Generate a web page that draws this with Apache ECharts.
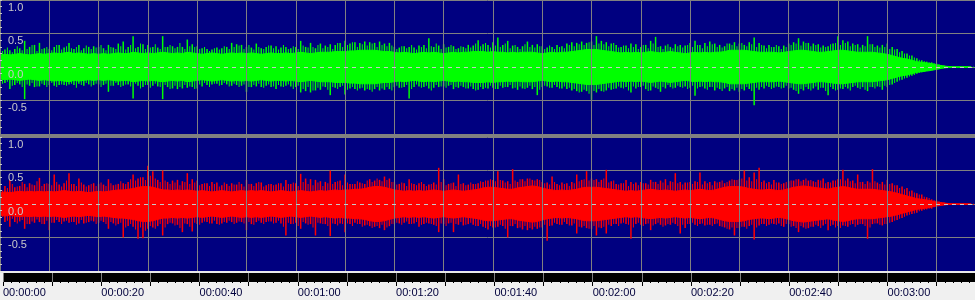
<!DOCTYPE html>
<html>
<head>
<meta charset="utf-8">
<script src="https://cdn.jsdelivr.net/npm/echarts@6/dist/echarts.min.js"></script>
<style>
html,body{margin:0;padding:0;background:#f0f0f0;}
#c{width:975px;height:300px;}
</style>
</head>
<body>
<div id="c"></div>
<script>
// time in seconds (samples at whole seconds 0..197 and at half seconds 0.5..197.5)
const seconds = Array.from({length: 198}, (_, i) => i);
const halfSeconds = Array.from({length: 198}, (_, i) => i + 0.5);
const timeTickLabels = ['00:00:00','00:00:20','00:00:40','00:01:00','00:01:20','00:01:40','00:02:00','00:02:20','00:02:40','00:03:00'];
const ampTickLabels = ['1.0','0.5','0.0','-0.5'];

// Channel 1 (green): dense core amplitude, peak max / min at whole seconds, peak max / min at half seconds
const greenCore = [
0.18,0.19,0.18,0.19,0.2,0.19,0.18,0.19,0.2,0.19,
0.2,0.21,0.2,0.21,0.22,0.2,0.21,0.2,0.19,0.2,
0.19,0.2,0.19,0.2,0.21,0.2,0.2,0.22,0.21,0.2,
0.21,0.2,0.21,0.22,0.21,0.2,0.21,0.2,0.22,0.21,
0.2,0.19,0.2,0.21,0.2,0.19,0.2,0.21,0.2,0.21,
0.2,0.21,0.2,0.19,0.2,0.21,0.2,0.2,0.21,0.2,
0.21,0.22,0.21,0.2,0.21,0.22,0.22,0.22,0.23,0.23,
0.23,0.24,0.24,0.25,0.25,0.25,0.25,0.24,0.23,0.23,
0.22,0.21,0.22,0.21,0.2,0.21,0.22,0.21,0.22,0.21,
0.2,0.21,0.22,0.21,0.22,0.22,0.23,0.23,0.23,0.22,
0.23,0.22,0.22,0.21,0.22,0.21,0.22,0.22,0.22,0.21,
0.2,0.21,0.22,0.21,0.22,0.22,0.23,0.24,0.25,0.26,
0.26,0.26,0.25,0.24,0.23,0.22,0.21,0.22,0.21,0.22,
0.21,0.22,0.23,0.22,0.21,0.22,0.23,0.22,0.21,0.2,
0.21,0.22,0.21,0.22,0.21,0.22,0.22,0.23,0.25,0.25,
0.25,0.25,0.24,0.23,0.22,0.22,0.22,0.22,0.21,0.22,
0.23,0.24,0.25,0.25,0.24,0.23,0.22,0.22,0.23,0.24,
0.25,0.25,0.24,0.23,0.22,0.22,0.22,0.22,0.21,0.2,
0.19,0.17,0.15,0.13,0.12,0.1,0.08,0.07,0.06,0.05,
0.035,0.02,0.01,0.005,0.004,0.004,0.004,0.004];
const greenPeakMax = [
0.33,0.26,0.25,0.27,0.28,0.39,0.3,0.33,0.36,0.28,
0.27,0.3,0.33,0.29,0.36,0.27,0.33,0.28,0.3,0.31,
0.3,0.28,0.33,0.29,0.35,0.38,0.3,0.46,0.3,0.34,
0.33,0.3,0.29,0.46,0.3,0.31,0.3,0.3,0.41,0.34,
0.31,0.28,0.27,0.26,0.29,0.28,0.3,0.36,0.34,0.33,
0.3,0.29,0.35,0.28,0.3,0.32,0.31,0.29,0.3,0.28,
0.3,0.39,0.3,0.36,0.28,0.35,0.32,0.34,0.33,0.36,
0.39,0.35,0.37,0.36,0.38,0.37,0.36,0.38,0.35,0.36,
0.3,0.29,0.31,0.3,0.29,0.32,0.33,0.43,0.3,0.32,
0.34,0.3,0.31,0.28,0.3,0.33,0.32,0.4,0.34,0.33,
0.37,0.44,0.33,0.39,0.32,0.3,0.31,0.38,0.33,0.34,
0.31,0.29,0.3,0.33,0.31,0.35,0.37,0.36,0.38,0.36,
0.38,0.46,0.39,0.37,0.35,0.33,0.3,0.32,0.35,0.34,
0.3,0.33,0.39,0.45,0.31,0.32,0.3,0.34,0.33,0.32,
0.36,0.39,0.33,0.36,0.38,0.35,0.33,0.31,0.35,0.37,
0.35,0.33,0.37,0.44,0.36,0.32,0.33,0.3,0.31,0.32,
0.35,0.37,0.43,0.38,0.36,0.35,0.34,0.32,0.31,0.35,
0.46,0.4,0.38,0.35,0.34,0.33,0.46,0.34,0.32,0.33,
0.35,0.3,0.27,0.24,0.2,0.17,0.13,0.1,0.08,0.07,
0.05,0.03,0.015,0.007,0.005,0.005,0.005,0.005];
const greenPeakMin = [
-0.26,-0.24,-0.33,-0.27,-0.26,-0.48,-0.28,-0.3,-0.29,-0.27,
-0.27,-0.28,-0.27,-0.27,-0.26,-0.27,-0.25,-0.28,-0.26,-0.27,
-0.26,-0.27,-0.37,-0.28,-0.27,-0.28,-0.26,-0.47,-0.28,-0.3,
-0.27,-0.28,-0.29,-0.48,-0.3,-0.32,-0.33,-0.32,-0.31,-0.3,
-0.32,-0.29,-0.27,-0.26,-0.25,-0.27,-0.26,-0.28,-0.27,-0.28,
-0.37,-0.3,-0.29,-0.3,-0.28,-0.3,-0.33,-0.29,-0.28,-0.29,
-0.3,-0.38,-0.36,-0.38,-0.35,-0.34,-0.3,-0.42,-0.31,-0.3,
-0.41,-0.32,-0.33,-0.32,-0.35,-0.34,-0.33,-0.35,-0.34,-0.33,
-0.3,-0.31,-0.3,-0.47,-0.3,-0.29,-0.3,-0.32,-0.31,-0.3,
-0.29,-0.28,-0.33,-0.31,-0.3,-0.32,-0.33,-0.34,-0.33,-0.32,
-0.31,-0.33,-0.31,-0.3,-0.32,-0.34,-0.32,-0.31,-0.33,-0.42,
-0.3,-0.29,-0.31,-0.3,-0.32,-0.33,-0.35,-0.36,-0.37,-0.36,
-0.49,-0.38,-0.36,-0.35,-0.34,-0.32,-0.31,-0.3,-0.38,-0.32,
-0.3,-0.33,-0.35,-0.31,-0.37,-0.32,-0.3,-0.31,-0.3,-0.29,
-0.31,-0.43,-0.3,-0.32,-0.3,-0.35,-0.33,-0.32,-0.36,-0.35,
-0.37,-0.35,-0.33,-0.57,-0.34,-0.32,-0.3,-0.31,-0.3,-0.31,
-0.32,-0.34,-0.4,-0.35,-0.33,-0.32,-0.34,-0.31,-0.42,-0.33,
-0.34,-0.33,-0.32,-0.3,-0.31,-0.3,-0.36,-0.3,-0.29,-0.34,
-0.3,-0.26,-0.22,-0.19,-0.16,-0.13,-0.1,-0.08,-0.06,-0.05,
-0.035,-0.02,-0.01,-0.006,-0.005,-0.005,-0.005,-0.005];
const greenHalfMax = [
0.24,0.29,0.22,0.31,0.25,0.27,0.33,0.24,0.27,0.3,
0.25,0.33,0.26,0.31,0.28,0.3,0.25,0.32,0.27,0.29,
0.33,0.25,0.3,0.27,0.31,0.26,0.33,0.28,0.35,0.27,
0.29,0.34,0.27,0.3,0.33,0.28,0.36,0.27,0.31,0.3,
0.27,0.3,0.24,0.28,0.26,0.31,0.27,0.3,0.32,0.27,
0.33,0.26,0.3,0.27,0.32,0.28,0.26,0.33,0.27,0.31,
0.27,0.32,0.29,0.3,0.33,0.28,0.3,0.27,0.36,0.3,
0.33,0.37,0.3,0.34,0.32,0.35,0.3,0.33,0.31,0.32,
0.27,0.31,0.28,0.33,0.26,0.3,0.28,0.31,0.35,0.27,
0.29,0.33,0.27,0.31,0.28,0.29,0.35,0.31,0.36,0.29,
0.32,0.3,0.35,0.28,0.33,0.27,0.34,0.3,0.29,0.31,
0.27,0.32,0.27,0.3,0.28,0.33,0.31,0.34,0.33,0.37,
0.33,0.35,0.34,0.31,0.36,0.29,0.32,0.28,0.3,0.27,
0.33,0.28,0.35,0.3,0.27,0.34,0.28,0.31,0.29,0.33,
0.3,0.33,0.28,0.31,0.34,0.3,0.29,0.35,0.33,0.31,
0.36,0.31,0.34,0.3,0.33,0.28,0.3,0.33,0.27,0.3,
0.33,0.35,0.32,0.36,0.31,0.33,0.29,0.3,0.34,0.36,
0.33,0.36,0.31,0.33,0.29,0.31,0.34,0.3,0.29,0.3,
0.27,0.26,0.22,0.2,0.17,0.14,0.11,0.09,0.07,0.06,
0.04,0.025,0.012,0.006,0.005,0.005,0.005,0.005];
const greenHalfMin = [
-0.25,-0.22,-0.28,-0.24,-0.3,-0.26,-0.24,-0.29,-0.25,-0.3,
-0.24,-0.3,-0.26,-0.28,-0.25,-0.31,-0.27,-0.24,-0.29,-0.25,
-0.3,-0.25,-0.28,-0.24,-0.3,-0.26,-0.29,-0.25,-0.32,-0.27,
-0.31,-0.25,-0.3,-0.27,-0.33,-0.28,-0.3,-0.27,-0.29,-0.33,
-0.26,-0.24,-0.3,-0.25,-0.28,-0.24,-0.29,-0.25,-0.3,-0.26,
-0.3,-0.27,-0.25,-0.31,-0.26,-0.29,-0.27,-0.3,-0.26,-0.33,
-0.28,-0.33,-0.3,-0.35,-0.31,-0.29,-0.34,-0.3,-0.33,-0.28,
-0.34,-0.3,-0.35,-0.31,-0.33,-0.37,-0.3,-0.32,-0.3,-0.35,
-0.28,-0.31,-0.27,-0.33,-0.26,-0.31,-0.28,-0.35,-0.27,-0.29,
-0.31,-0.27,-0.3,-0.28,-0.32,-0.29,-0.35,-0.3,-0.31,-0.28,
-0.33,-0.28,-0.3,-0.27,-0.31,-0.29,-0.33,-0.28,-0.3,-0.34,
-0.28,-0.31,-0.27,-0.32,-0.29,-0.31,-0.33,-0.38,-0.34,-0.4,
-0.36,-0.33,-0.37,-0.31,-0.33,-0.29,-0.32,-0.35,-0.29,-0.3,
-0.28,-0.36,-0.29,-0.33,-0.3,-0.27,-0.32,-0.28,-0.31,-0.33,
-0.28,-0.32,-0.29,-0.34,-0.3,-0.31,-0.36,-0.3,-0.33,-0.31,
-0.33,-0.3,-0.36,-0.31,-0.3,-0.28,-0.33,-0.29,-0.32,-0.28,
-0.31,-0.36,-0.33,-0.3,-0.35,-0.29,-0.31,-0.36,-0.3,-0.35,
-0.32,-0.3,-0.35,-0.28,-0.33,-0.34,-0.3,-0.32,-0.3,-0.28,
-0.27,-0.24,-0.2,-0.17,-0.14,-0.12,-0.09,-0.07,-0.055,-0.045,
-0.03,-0.015,-0.008,-0.005,-0.005,-0.005,-0.005,-0.005];

// Channel 2 (red)
const redCore = [
0.17,0.18,0.17,0.18,0.19,0.18,0.19,0.18,0.19,0.18,
0.19,0.18,0.19,0.2,0.19,0.18,0.19,0.18,0.17,0.18,
0.19,0.18,0.19,0.2,0.21,0.21,0.22,0.23,0.25,0.26,
0.26,0.25,0.23,0.21,0.21,0.2,0.21,0.2,0.21,0.2,
0.19,0.2,0.19,0.18,0.19,0.2,0.19,0.18,0.19,0.2,
0.19,0.2,0.19,0.2,0.19,0.18,0.19,0.2,0.19,0.18,
0.19,0.2,0.19,0.18,0.19,0.2,0.19,0.2,0.21,0.2,
0.21,0.21,0.22,0.22,0.23,0.25,0.26,0.26,0.25,0.23,
0.21,0.2,0.19,0.2,0.19,0.2,0.19,0.2,0.21,0.2,
0.19,0.2,0.21,0.2,0.19,0.2,0.21,0.22,0.24,0.25,
0.25,0.24,0.23,0.22,0.22,0.24,0.25,0.26,0.27,0.26,
0.24,0.22,0.21,0.2,0.21,0.2,0.21,0.22,0.24,0.25,
0.25,0.25,0.24,0.23,0.22,0.21,0.2,0.19,0.2,0.19,
0.2,0.21,0.22,0.21,0.2,0.21,0.2,0.19,0.2,0.21,
0.2,0.21,0.22,0.21,0.2,0.21,0.23,0.25,0.26,0.26,
0.26,0.25,0.23,0.22,0.21,0.21,0.22,0.21,0.2,0.21,
0.23,0.25,0.26,0.27,0.26,0.25,0.24,0.23,0.22,0.24,
0.25,0.26,0.25,0.23,0.22,0.22,0.22,0.22,0.21,0.2,
0.19,0.18,0.16,0.14,0.12,0.1,0.08,0.07,0.06,0.045,
0.03,0.02,0.01,0.005,0.004,0.004,0.004,0.004];
const redPeakMax = [
0.14,0.27,0.36,0.25,0.27,0.3,0.31,0.28,0.39,0.3,
0.3,0.44,0.29,0.31,0.46,0.3,0.38,0.29,0.28,0.31,
0.3,0.29,0.37,0.28,0.3,0.31,0.33,0.44,0.38,0.4,
0.57,0.49,0.36,0.5,0.33,0.35,0.36,0.34,0.46,0.37,
0.35,0.3,0.31,0.33,0.32,0.28,0.3,0.31,0.29,0.3,
0.36,0.3,0.31,0.32,0.28,0.3,0.29,0.31,0.36,0.3,
0.31,0.45,0.38,0.37,0.36,0.34,0.33,0.5,0.33,0.35,
0.44,0.3,0.3,0.32,0.3,0.37,0.35,0.36,0.41,0.38,
0.33,0.3,0.31,0.37,0.3,0.31,0.3,0.29,0.32,0.54,
0.37,0.3,0.32,0.44,0.31,0.29,0.3,0.31,0.33,0.35,
0.36,0.49,0.35,0.34,0.52,0.33,0.37,0.38,0.36,0.37,
0.33,0.32,0.41,0.3,0.32,0.31,0.33,0.44,0.36,0.49,
0.38,0.37,0.36,0.51,0.34,0.3,0.31,0.36,0.33,0.32,
0.33,0.31,0.36,0.33,0.35,0.37,0.34,0.46,0.33,0.32,
0.33,0.34,0.47,0.34,0.33,0.34,0.33,0.31,0.35,0.36,
0.37,0.5,0.4,0.47,0.54,0.35,0.33,0.36,0.32,0.31,
0.34,0.35,0.37,0.36,0.35,0.34,0.36,0.38,0.33,0.35,
0.37,0.51,0.38,0.35,0.44,0.33,0.34,0.52,0.32,0.33,
0.36,0.31,0.28,0.26,0.24,0.2,0.16,0.14,0.1,0.07,
0.05,0.03,0.015,0.007,0.005,0.005,0.005,0.005];
const redPeakMin = [
-0.2,-0.27,-0.34,-0.27,-0.26,-0.37,-0.3,-0.28,-0.27,-0.3,
-0.39,-0.28,-0.27,-0.26,-0.28,-0.27,-0.29,-0.29,-0.27,-0.26,
-0.28,-0.27,-0.37,-0.29,-0.3,-0.5,-0.33,-0.34,-0.52,-0.51,
-0.37,-0.35,-0.33,-0.47,-0.3,-0.29,-0.31,-0.42,-0.3,-0.41,
-0.3,-0.28,-0.27,-0.29,-0.3,-0.29,-0.28,-0.27,-0.28,-0.27,
-0.39,-0.3,-0.27,-0.28,-0.27,-0.26,-0.28,-0.29,-0.47,-0.3,
-0.28,-0.37,-0.29,-0.3,-0.47,-0.29,-0.3,-0.48,-0.3,-0.29,
-0.42,-0.3,-0.28,-0.3,-0.32,-0.33,-0.34,-0.36,-0.39,-0.33,
-0.3,-0.29,-0.28,-0.3,-0.29,-0.34,-0.3,-0.29,-0.31,-0.42,
-0.3,-0.29,-0.42,-0.31,-0.32,-0.3,-0.31,-0.33,-0.34,-0.38,
-0.35,-0.34,-0.33,-0.5,-0.33,-0.36,-0.38,-0.39,-0.38,-0.37,
-0.35,-0.55,-0.32,-0.3,-0.31,-0.3,-0.32,-0.44,-0.35,-0.36,
-0.37,-0.47,-0.36,-0.44,-0.33,-0.3,-0.29,-0.3,-0.52,-0.3,
-0.31,-0.3,-0.39,-0.3,-0.31,-0.32,-0.31,-0.3,-0.44,-0.36,
-0.3,-0.31,-0.3,-0.32,-0.31,-0.3,-0.33,-0.35,-0.38,-0.47,
-0.36,-0.34,-0.33,-0.53,-0.32,-0.3,-0.31,-0.3,-0.29,-0.34,
-0.3,-0.33,-0.42,-0.35,-0.36,-0.34,-0.33,-0.32,-0.39,-0.31,
-0.33,-0.32,-0.34,-0.3,-0.31,-0.3,-0.52,-0.3,-0.29,-0.32,
-0.3,-0.27,-0.24,-0.21,-0.17,-0.15,-0.13,-0.1,-0.08,-0.07,
-0.03,-0.02,-0.01,-0.006,-0.005,-0.005,-0.005,-0.005];
const redHalfMax = [
0.2,0.24,0.3,0.26,0.33,0.25,0.29,0.34,0.27,0.31,
0.28,0.33,0.26,0.35,0.3,0.27,0.32,0.26,0.3,0.27,
0.32,0.27,0.31,0.29,0.34,0.3,0.37,0.35,0.4,0.36,
0.42,0.38,0.33,0.35,0.3,0.32,0.28,0.33,0.3,0.32,
0.28,0.31,0.27,0.3,0.26,0.32,0.27,0.29,0.33,0.26,
0.3,0.27,0.33,0.26,0.3,0.28,0.31,0.26,0.3,0.32,
0.27,0.33,0.3,0.28,0.32,0.27,0.31,0.3,0.34,0.28,
0.32,0.3,0.34,0.31,0.35,0.33,0.38,0.34,0.36,0.33,
0.29,0.32,0.27,0.31,0.28,0.33,0.27,0.3,0.29,0.33,
0.28,0.31,0.27,0.3,0.28,0.32,0.3,0.34,0.35,0.37,
0.34,0.36,0.32,0.3,0.35,0.37,0.34,0.38,0.35,0.36,
0.31,0.29,0.33,0.28,0.3,0.27,0.31,0.34,0.37,0.35,
0.36,0.33,0.38,0.32,0.35,0.29,0.31,0.27,0.3,0.28,
0.31,0.29,0.33,0.3,0.32,0.28,0.33,0.31,0.29,0.32,
0.3,0.33,0.29,0.31,0.28,0.32,0.35,0.33,0.37,0.36,
0.38,0.35,0.34,0.37,0.33,0.31,0.29,0.32,0.3,0.33,
0.35,0.37,0.34,0.38,0.36,0.33,0.35,0.31,0.32,0.35,
0.37,0.35,0.34,0.31,0.33,0.3,0.32,0.34,0.3,0.29,
0.3,0.28,0.24,0.22,0.19,0.17,0.14,0.11,0.09,0.06,
0.04,0.025,0.012,0.006,0.005,0.005,0.005,0.005];
const redHalfMin = [
-0.19,-0.25,-0.22,-0.29,-0.24,-0.3,-0.26,-0.23,-0.3,-0.25,
-0.28,-0.24,-0.3,-0.25,-0.27,-0.31,-0.24,-0.28,-0.25,-0.3,
-0.25,-0.3,-0.27,-0.32,-0.28,-0.35,-0.3,-0.38,-0.35,-0.4,
-0.33,-0.37,-0.3,-0.35,-0.28,-0.32,-0.36,-0.29,-0.34,-0.28,
-0.31,-0.26,-0.29,-0.25,-0.31,-0.27,-0.25,-0.3,-0.26,-0.29,
-0.27,-0.31,-0.25,-0.3,-0.26,-0.29,-0.25,-0.34,-0.28,-0.3,
-0.33,-0.27,-0.31,-0.35,-0.28,-0.3,-0.33,-0.29,-0.32,-0.3,
-0.29,-0.33,-0.3,-0.34,-0.31,-0.36,-0.33,-0.31,-0.35,-0.3,
-0.28,-0.31,-0.26,-0.3,-0.27,-0.31,-0.28,-0.3,-0.33,-0.29,
-0.33,-0.28,-0.3,-0.27,-0.31,-0.28,-0.33,-0.3,-0.36,-0.33,
-0.35,-0.31,-0.37,-0.33,-0.3,-0.35,-0.33,-0.36,-0.34,-0.35,
-0.31,-0.33,-0.28,-0.31,-0.27,-0.32,-0.29,-0.34,-0.33,-0.37,
-0.33,-0.35,-0.34,-0.31,-0.3,-0.33,-0.28,-0.31,-0.35,-0.28,
-0.33,-0.29,-0.32,-0.28,-0.34,-0.3,-0.28,-0.33,-0.31,-0.3,
-0.28,-0.33,-0.29,-0.31,-0.33,-0.29,-0.34,-0.37,-0.35,-0.36,
-0.34,-0.37,-0.31,-0.35,-0.3,-0.33,-0.29,-0.31,-0.33,-0.3,
-0.34,-0.36,-0.33,-0.37,-0.34,-0.31,-0.36,-0.3,-0.33,-0.35,
-0.36,-0.33,-0.31,-0.34,-0.3,-0.33,-0.35,-0.29,-0.31,-0.3,
-0.28,-0.25,-0.22,-0.19,-0.16,-0.14,-0.11,-0.09,-0.07,-0.05,
-0.025,-0.015,-0.008,-0.005,-0.005,-0.005,-0.005,-0.005];

const T_MAX = 197.8;
const NAVY = '#000080', GRID = '#808080', LABEL = '#c8c8c8';

const chart = echarts.init(document.getElementById('c'), null, {renderer: 'canvas'});

function grid(top, height, bg) {
  return {left: 0, right: 0, top: top, height: height, show: true, backgroundColor: bg, borderWidth: 0, containLabel: false};
}
function panelX(gi) {
  return {type: 'value', gridIndex: gi, min: 0, max: T_MAX, interval: 10, z: 5,
    axisLine: {show: false}, axisTick: {show: false}, axisLabel: {show: false},
    splitLine: {show: true, lineStyle: {color: GRID, width: 1}}};
}
function panelYGrid(gi) {
  return {type: 'value', gridIndex: gi, min: -1, max: 1, interval: 0.5, position: 'left',
    axisLine: {show: false}, axisTick: {show: false}, axisLabel: {show: false},
    splitLine: {show: true, lineStyle: {color: GRID, width: 1}}};
}
function panelYLabels(gi) {
  return {type: 'value', gridIndex: gi, min: -1, max: 1, interval: 0.5, z: 6, position: 'left', offset: 0,
    axisLine: {show: false, onZero: false},
    axisTick: {show: true, inside: true, length: 2, lineStyle: {color: LABEL}},
    minorTick: {show: true, splitNumber: 5, length: 2, lineStyle: {color: LABEL}},
    splitLine: {show: false},
    axisLabel: {show: true, inside: true, margin: 8, verticalAlign: 'top', padding: [2,0,0,0],
      color: LABEL, fontFamily: 'Liberation Sans, Arial, sans-serif', fontSize: 11,
      showMinLabel: false,
      formatter: function (v) { const i = [1, 0.5, 0, -0.5].indexOf(Math.round(v*10)/10); return i >= 0 ? ampTickLabels[i] : ''; }}};
}

function coreSeries(gi, yi, vals, sign, color) {
  return {type: 'line', xAxisIndex: gi, yAxisIndex: yi, symbol: 'none', silent: true, z: 2,
    data: seconds.map((t, i) => [t, sign * vals[i]]),
    lineStyle: {color: color, width: 1}, areaStyle: {color: color, opacity: 1, origin: 0}};
}
function spikeSeries(gi, yi, times, lo, hi, color, w, withZeroLine) {
  const s = {type: 'custom', xAxisIndex: gi, yAxisIndex: yi, silent: true, z: 3,
    data: times.map((t, i) => [t, lo[i], hi[i]]),
    renderItem: function (params, api) {
      const a = api.coord([api.value(0), api.value(2)]);
      const b = api.coord([api.value(0), api.value(1)]);
      return {type: 'rect', shape: {x: a[0] - w / 2, y: a[1], width: w, height: Math.max(1, b[1] - a[1])},
        style: {fill: color}};
    }};
  if (withZeroLine) {
    s.markLine = {silent: true, symbol: 'none', label: {show: false},
      lineStyle: {color: '#c8c8c8', type: [4, 4], width: 1},
      data: [{yAxis: 0}]};
  }
  return s;
}

const option = {
  backgroundColor: '#f0f0f0',
  animation: false,
  grid: [grid(0, 134, NAVY), grid(137, 134, NAVY), grid(273, 9, '#000000')],
  xAxis: [panelX(0), panelX(1),
    {type: 'value', gridIndex: 2, min: 0, max: T_MAX, interval: 10, position: 'bottom', z: 5,
     axisLine: {show: false},
     axisTick: {show: true, length: 4, lineStyle: {color: '#000000'}},
     minorTick: {show: true, splitNumber: 6, length: 1, lineStyle: {color: '#000000'}},
     splitLine: {show: true, lineStyle: {color: GRID, width: 1}},
     axisLabel: {show: true, margin: 5, align: 'left', color: '#00003c',
       fontFamily: 'Liberation Sans, Arial, sans-serif', fontSize: 11, showMaxLabel: false,
       formatter: function (v) { const k = Math.round(v); return (k % 20 === 0 && k/20 < timeTickLabels.length) ? timeTickLabels[k/20] : ''; }}}],
  yAxis: [panelYGrid(0), panelYLabels(0), panelYGrid(1), panelYLabels(1),
    {type: 'value', gridIndex: 2, min: 0, max: 1, show: false, splitLine: {show: false}}],
  graphic: [
    {type: 'rect', shape: {x: 0, y: 134, width: 975, height: 3}, style: {fill: '#808080'}, z: 10},
    {type: 'rect', shape: {x: 0, y: 271, width: 975, height: 2}, style: {fill: '#e8e8e8'}, z: 10}
  ],
  series: [
    coreSeries(0, 0, greenCore, 1, '#00ff00'),
    coreSeries(0, 0, greenCore, -1, '#00ff00'),
    spikeSeries(0, 0, halfSeconds, greenHalfMin, greenHalfMax, '#00ff00', 1, false),
    spikeSeries(0, 0, seconds, greenPeakMin, greenPeakMax, '#00ff00', 1.5, true),
    coreSeries(1, 2, redCore, 1, '#ff0000'),
    coreSeries(1, 2, redCore, -1, '#ff0000'),
    spikeSeries(1, 2, halfSeconds, redHalfMin, redHalfMax, '#ff0000', 1, false),
    spikeSeries(1, 2, seconds, redPeakMin, redPeakMax, '#ff0000', 1.5, true)
  ]
};
chart.setOption(option);
</script>
</body>
</html>
